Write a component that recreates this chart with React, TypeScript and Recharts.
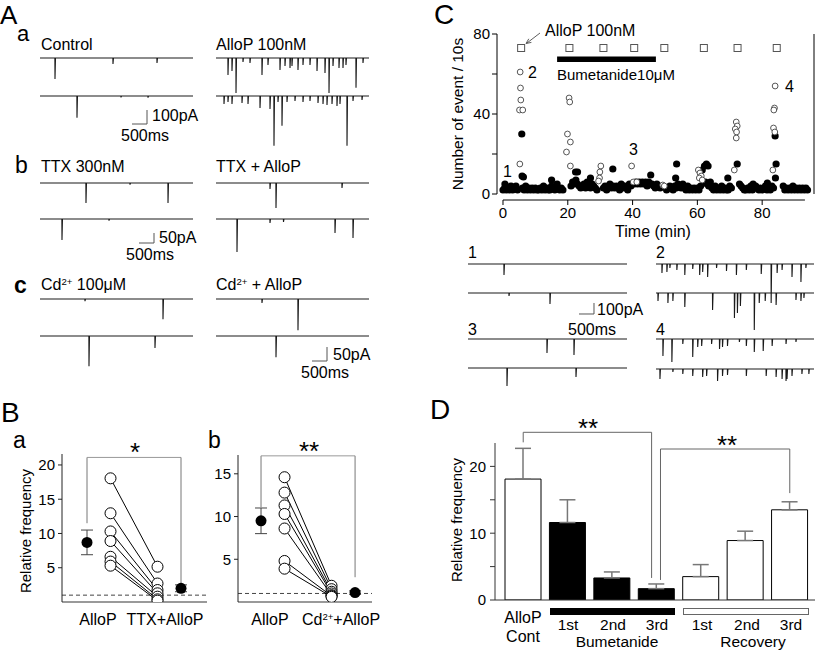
import React from "react";
import {
  Bar,
  BarChart,
  Cell,
  ComposedChart,
  ErrorBar,
  Line,
  LineChart,
  ReferenceArea,
  ReferenceLine,
  Scatter,
  XAxis,
  YAxis,
} from "recharts";

type Spike = [number, number]; // [time in ms, amplitude in pA]

// ---------- A: sweeps (spike time ms, amplitude pA) ----------
const controlTop: Spike[] = [[500, 150], [2433, 43], [3900, 35]];
const controlBottom: Spike[] = [[1233, 156], [2700, 10], [3600, 12]];
const allopTop: Spike[] = [
  [400, 121], [533, 92], [667, 250], [900, 28], [1133, 35], [1533, 121], [1733, 50], [2133, 85],
  [2300, 57], [2467, 71], [2533, 57], [2733, 85], [2900, 50], [3133, 50], [3367, 92], [3633, 107],
  [3767, 250], [3900, 57], [4100, 71], [4233, 71], [4333, 50], [4667, 213], [4900, 35],
];
const allopBottom: Spike[] = [
  [267, 57], [400, 43], [533, 57], [867, 50], [1067, 57], [1467, 85], [1800, 92], [1933, 355],
  [2067, 43], [2200, 213], [2367, 43], [2633, 35], [2900, 43], [3133, 35], [3400, 50], [3567, 57],
  [3700, 64], [3867, 57], [4033, 71], [4133, 57], [4367, 355], [4567, 35], [4867, 28],
];
const ttxTop: Spike[] = [[1533, 100], [3000, 8], [4267, 100]];
const ttxBottom: Spike[] = [[733, 105], [2300, 8]];
const ttxAllopTop: Spike[] = [[1800, 30], [2000, 125], [4200, 25]];
const ttxAllopBottom: Spike[] = [[700, 165], [1800, 20], [2250, 15], [3967, 70], [4567, 95]];
const cdTop: Spike[] = [[1500, 8], [4100, 72]];
const cdBottom: Spike[] = [[1633, 108], [3833, 43]];
const cdAllopTop: Spike[] = [[1533, 14], [2733, 112]];
const cdAllopBottom: Spike[] = [[2000, 76]];

// ---------- C: sample sweeps ----------
const c1Top: Spike[] = [[1200, 100]];
const c1Bottom: Spike[] = [[1367, 27], [2733, 100]];
const c3Top: Spike[] = [[2633, 127], [3533, 145]];
const c3Bottom: Spike[] = [[1300, 164], [3600, 82]];
const c2Top: Spike[] = [
  [200, 82], [366, 73], [466, 36], [700, 55], [966, 100], [1232, 45], [1465, 100], [1565, 73],
  [1732, 118], [2031, 36], [2364, 64], [2697, 100], [3030, 55], [3530, 91], [3863, 355], [4063, 82],
  [4229, 55], [4562, 118], [4862, 164], [5028, 36],
];
const c2Bottom: Spike[] = [
  [67, 73], [400, 91], [566, 73], [966, 127], [1898, 155], [2631, 228], [2731, 182], [2831, 118],
  [3297, 337], [3463, 91], [3663, 73], [4029, 109], [4695, 64], [4862, 73], [4962, 45],
];
const c4Top: Spike[] = [
  [233, 155], [533, 209], [899, 45], [1232, 164], [1399, 73], [1532, 64], [1865, 45], [2131, 91],
  [2231, 73], [2398, 64], [2797, 27], [3030, 64], [3297, 118], [3596, 109], [3896, 64], [4362, 45],
  [4695, 27],
];
const c4Bottom: Spike[] = [
  [133, 91], [566, 27], [899, 45], [1232, 64], [1565, 73], [1698, 64], [2065, 109], [2231, 64],
  [2398, 55], [3030, 64], [3696, 64], [4029, 73], [4229, 91], [4362, 109], [4396, 91], [4562, 64],
  [4895, 45], [5128, 45],
];

// ---------- C: events per 10 s vs time ----------
// one value per 30 s bin, starting at 0 min (null = no point shown)
const bandCounts: (number | null)[] = [
  2, 3, 2, 3, 2, 4, 2, 3, 4, 2,
  null, null, 3, 2, 4, 2, 3, 2, 3, 2,
  3, 2, 2, 3, 2, 4, 2, 3, 2, 2,
  4, 3, 2, 4, 3, 2, 3, 2, null, null,
  null, null, 4, 6, 5, 7, 5, 4, 3, 4,
  5, 3, 6, 4, 3, 5, 4, 3, 2, null,
  null, null, 3, 4, 2, 3, 5, 3, 4, 3,
  4, 3, 2, 5, 3, 4, 3, 2, 5, 4,
  null, 5, 6, 5, 6, 5, 6, 5, 6, 4,
  6, 5, 5, 4, 3, 5, 4, 3, null, null,
  null, 2, 3, 4, 3, 2, 4, 3, 5, 4,
  3, 5, 3, 2, 4, 2, 3, 2, 3, 2,
  3, 2, 4, null, null, 6, 5, 4, 6, 3,
  2, 4, 2, 3, 2, 4, 2, 3, 2, 2,
  4, 3, null, null, null, null, 5, 4, 3, 2,
  2, 3, 2, 4, 2, 3, 4, 3, 2, 3,
  2, 3, 4, 2, 3, 2, 4, 3, null, null,
  null, null, null, 4, 2, 3, 2, 3, 2, 4,
  2, 3, 2, 3, 2, 3, 2, 3, 2,
];
const filledBursts: [number, number][] = [
  [0.6, 5], [5.8, 30], [5.9, 9], [6.3, 8.5], [15, 7], [16.7, 5], [22.4, 11], [23.0, 11], [27, 8],
  [33.9, 12.5], [45.6, 9.5], [53.3, 8], [53.6, 15], [61.5, 12], [62.2, 14], [62.8, 15], [63.3, 14],
  [69.4, 8], [72.3, 15], [77.2, 5], [81.6, 5.5], [84.0, 29], [84.3, 15], [84.1, 8],
];
const openCounts: [number, number][] = [
  [5.3, 61], [5.4, 53], [5.5, 47], [5.1, 42], [6.1, 42], [5.2, 15],
  [20.4, 48], [20.6, 46], [19.9, 30], [20.8, 26], [19.6, 21], [20.8, 14],
  [30.2, 14], [29.9, 11], [29.8, 8], [29.5, 6.5],
  [39.7, 14], [40.2, 6], [41.3, 6],
  [49.3, 4.5], [49.8, 4],
  [60.3, 12], [60.8, 10.5], [61.2, 9], [60.6, 8], [61.5, 7],
  [72.0, 36], [72.3, 34], [71.7, 32.5], [72.1, 31], [72.0, 28], [71.4, 12],
  [84.0, 54], [83.8, 43], [83.6, 42], [83.5, 33], [83.9, 31], [83.3, 12],
];
const allopMarkTimes = [5.6, 20.5, 31, 40.5, 49.8, 62, 72.4, 84.5];
const allopMarkLevel = 73;
const bumetanideSpan = [16.7, 47.2];

// ---------- B: relative frequency ----------
const baAllop = [18.05, 12.95, 10.3, 8.9, 6.6, 5.9, 5.3];
const baTtx = [5.15, 2.7, 1.75, 1.27, 0.78, 0.39, 0.2];
const baMeans = [8.7, 2.0];
const baErrors = [1.8, 0.5];
const baBracket = [21.1, 11.5, 2.7]; // top, left end, right end
const bbAllop = [14.6, 12.8, 11.3, 10.3, 8.6, 4.8, 3.9];
const bbCd = [1.9, 1.5, 1.2, 1.0, 0.8, 0.7, 0.6];
const bbMeans = [9.5, 1.1];
const bbErrors = [1.5, 0.2];
const bbBracket = [17.1, 11.1, 2.9];

// ---------- D ----------
const dCategories = [
  "AlloP Cont", "Bumetanide 1st", "Bumetanide 2nd", "Bumetanide 3rd",
  "Recovery 1st", "Recovery 2nd", "Recovery 3rd",
];
const dMeans = [18.1, 11.6, 3.3, 1.7, 3.5, 8.9, 13.5];
const dErrUp = [4.6, 3.4, 0.9, 0.7, 1.8, 1.4, 1.2];

const FONT = '"Liberation Sans", Arial, Helvetica, sans-serif';

// text placed by its baseline; the box is kept to roughly the cap height
function Txt({ x, y, size = 16, anchor = "start", bold = false, children }: any) {
  const shift = anchor === "middle" ? "-50%" : anchor === "end" ? "-100%" : "0";
  const lh = size * 0.7;
  return (
    <div
      style={{
        position: "absolute",
        left: x,
        top: y - lh / 2 - 0.3465 * size,
        fontSize: size,
        lineHeight: `${lh}px`,
        fontWeight: bold ? 700 : 400,
        whiteSpace: "nowrap",
        transform: `translateX(${shift})`,
      }}
    >
      {children}
    </div>
  );
}

function VTxt({ cx, cy, size = 15, children }: any) {
  return (
    <div
      style={{
        position: "absolute",
        left: cx,
        top: cy,
        fontSize: size,
        lineHeight: `${size}px`,
        whiteSpace: "nowrap",
        transform: "translate(-50%, -50%) rotate(-90deg)",
      }}
    >
      {children}
    </div>
  );
}

const Sup = ({ children }: any) => (
  <span style={{ fontSize: "0.6em", position: "relative", top: "-0.6em" }}>{children}</span>
);

function tracePoints(spikes: Spike[], duration: number) {
  const pts: { t: number; v: number }[] = [{ t: 0, v: 0 }];
  [...spikes]
    .sort((a, b) => a[0] - b[0])
    .forEach(([t, a]) => {
      pts.push({ t: t - 4, v: 0 }, { t, v: -a }, { t: t + 16, v: 0 });
    });
  pts.push({ t: duration, v: 0 });
  return pts;
}

function Trace({ spikes, x, y, width, duration, pAPerPx }: any) {
  const depth = Math.ceil(Math.max(...spikes.map((s: Spike) => s[1])) / pAPerPx) + 2;
  return (
    <div style={{ position: "absolute", left: x, top: y - 2 }}>
      <LineChart
        width={width}
        height={depth + 4}
        data={tracePoints(spikes, duration)}
        margin={{ top: 2, right: 0, bottom: 2, left: 0 }}
      >
        <XAxis dataKey="t" type="number" domain={[0, duration]} hide />
        <YAxis type="number" domain={[-depth * pAPerPx, 0]} hide />
        <Line dataKey="v" type="linear" stroke="#1a1a1a" strokeWidth={1.1} dot={false} isAnimationActive={false} />
      </LineChart>
    </div>
  );
}

function ScaleBar({ x, y, msPerPx, pAPerPx, pA }: any) {
  const w = 500 / msPerPx;
  const h = pA / pAPerPx;
  return (
    <div style={{ position: "absolute", left: x - 1, top: y - h - 1 }}>
      <LineChart
        width={w + 2}
        height={h + 2}
        data={[{ t: 0, v: 0 }, { t: 500, v: 0 }, { t: 500, v: pA }]}
        margin={{ top: 1, right: 1, bottom: 1, left: 1 }}
      >
        <XAxis dataKey="t" type="number" domain={[0, 500]} hide />
        <YAxis type="number" domain={[0, pA]} hide />
        <Line dataKey="v" type="linear" stroke="#555" strokeWidth={1} dot={false} isAnimationActive={false} />
      </LineChart>
    </div>
  );
}

const FilledMean = (p: any) => <circle cx={p.cx} cy={p.cy} r={5.5} fill="#000" />;

function PairPlot({ x, y, width, margin, yMax, yTicks, xDomain, before, after, means, errors, bracket }: any) {
  const meanRows = means.map((v: number, i: number) => ({ x: i === 0 ? 0 : 4, y: v, e: errors[i] }));
  return (
    <div style={{ position: "absolute", left: x, top: y }}>
      <ComposedChart width={width} height={170} margin={margin}>
        <XAxis
          type="number"
          dataKey="x"
          domain={xDomain}
          allowDataOverflow
          tick={false}
          tickLine={false}
          axisLine={{ stroke: "#999", strokeWidth: 2 }}
          height={8}
        />
        <YAxis
          type="number"
          dataKey="y"
          domain={[0, yMax]}
          allowDataOverflow
          ticks={yTicks}
          width={34}
          tickSize={4}
          tickMargin={3}
          tick={{ fontSize: 15, fill: "#000" }}
          axisLine={{ stroke: "#222" }}
          tickLine={{ stroke: "#222" }}
        />
        <ReferenceLine y={1} stroke="#444" strokeDasharray="4 3" />
        <ReferenceLine segment={[{ x: 0, y: bracket[1] }, { x: 0, y: bracket[0] }]} stroke="#777" ifOverflow="visible" />
        <ReferenceLine segment={[{ x: 0, y: bracket[0] }, { x: 4, y: bracket[0] }]} stroke="#999" ifOverflow="visible" />
        <ReferenceLine segment={[{ x: 4, y: bracket[0] }, { x: 4, y: bracket[2] }]} stroke="#777" ifOverflow="visible" />
        {before.map((b: number, i: number) => (
          <Line
            key={i}
            data={[{ x: 1, y: b }, { x: 3, y: after[i] }]}
            dataKey="y"
            type="linear"
            stroke="#000"
            strokeWidth={1}
            dot={{ r: 5.5, fill: "#fff", stroke: "#000", strokeWidth: 1 }}
            isAnimationActive={false}
          />
        ))}
        <Scatter data={meanRows} dataKey="y" shape={FilledMean} isAnimationActive={false}>
          <ErrorBar dataKey="e" width={6} stroke="#444" strokeWidth={1} direction="y" />
        </Scatter>
      </ComposedChart>
    </div>
  );
}

const BandDot = (p: any) => <circle cx={p.cx} cy={p.cy} r={3.6} fill="#000" />;
const OpenDot = (p: any) => <circle cx={p.cx} cy={p.cy} r={2.9} fill="#fff" stroke="#444" strokeWidth={0.9} />;
const SquareMark = (p: any) => (
  <rect x={p.cx - 3.5} y={p.cy - 3.5} width={7} height={7} fill="#fff" stroke="#555" strokeWidth={1} />
);
const CYTick = (p: any) =>
  p.payload.value % 40 === 0 ? (
    <text x={p.x} y={p.y} dy="0.355em" textAnchor="end" fontSize={15} fill="#000">
      {p.payload.value}
    </text>
  ) : (
    <g />
  );
const DYTick = (p: any) =>
  p.payload.value % 10 === 0 ? (
    <text x={p.x} y={p.y} dy="0.355em" textAnchor="end" fontSize={15} fill="#000">
      {p.payload.value}
    </text>
  ) : (
    <g />
  );

function TimeCourse() {
  const band = bandCounts
    .map((v, i) => ({ t: i * 0.5, v }))
    .filter((d) => d.v !== null);
  const bursts = filledBursts.map(([t, v]) => ({ t, v }));
  const opens = openCounts.map(([t, v]) => ({ t, v }));
  const marks = allopMarkTimes.map((t) => ({ t, v: allopMarkLevel }));
  return (
    <div style={{ position: "absolute", left: 440, top: 20 }}>
      <ComposedChart width={380} height={210} margin={{ top: 14, right: 0, bottom: 6, left: 7 }}>
        <XAxis
          type="number"
          dataKey="t"
          domain={[-1.85, 96]}
          allowDataOverflow
          ticks={[0, 20, 40, 60, 80]}
          tickSize={5}
          tickMargin={2}
          axisLine={false}
          tickLine={{ stroke: "#000" }}
          tick={{ fontSize: 15, fill: "#000" }}
          height={24}
        />
        <YAxis
          yAxisId="l"
          type="number"
          dataKey="v"
          domain={[-3, 80]}
          allowDataOverflow
          ticks={[0, 20, 40, 60, 80]}
          tickSize={5}
          tickMargin={2}
          width={50}
          axisLine={false}
          tickLine={{ stroke: "#000" }}
          tick={CYTick}
        />
        <YAxis
          yAxisId="r"
          orientation="right"
          type="number"
          domain={[-3, 80]}
          allowDataOverflow
          ticks={[0, 20, 40, 60, 80]}
          tickSize={5}
          width={6}
          axisLine={false}
          tickLine={{ stroke: "#000" }}
          tick={false}
        />
        <ReferenceLine yAxisId="l" segment={[{ x: -1.85, y: 0 }, { x: -1.85, y: 80 }]} stroke="#000" ifOverflow="visible" />
        <ReferenceLine yAxisId="l" segment={[{ x: 96, y: 0 }, { x: 96, y: 80 }]} stroke="#000" ifOverflow="visible" />
        <ReferenceLine yAxisId="l" segment={[{ x: 0, y: -3 }, { x: 93.2, y: -3 }]} stroke="#000" ifOverflow="visible" />
        <ReferenceArea
          yAxisId="l"
          x1={bumetanideSpan[0]}
          x2={bumetanideSpan[1]}
          y1={66}
          y2={68.8}
          fill="#000"
          fillOpacity={1}
          strokeWidth={0}
        />
        <Scatter yAxisId="l" data={band} shape={BandDot} isAnimationActive={false} />
        <Scatter yAxisId="l" data={bursts} shape={BandDot} isAnimationActive={false} />
        <Scatter yAxisId="l" data={opens} shape={OpenDot} isAnimationActive={false} />
        <Scatter yAxisId="l" data={marks} shape={SquareMark} isAnimationActive={false} />
      </ComposedChart>
    </div>
  );
}

function SummaryBars() {
  const rows = dCategories.map((c, i) => ({ c, v: dMeans[i], err: [0, dErrUp[i]] }));
  const seg = (a: number, b: number, c: number, d: number, k: string) => (
    <ReferenceLine
      key={k}
      xAxisId="pos"
      segment={[{ x: a, y: b }, { x: c, y: d }]}
      stroke="#666"
      ifOverflow="visible"
    />
  );
  return (
    <div style={{ position: "absolute", left: 440, top: 420 }}>
      <BarChart width={380} height={190} data={rows} margin={{ top: 23, right: 5, bottom: 0, left: 5 }}>
        <XAxis
          dataKey="c"
          tick={false}
          tickLine={false}
          height={10}
          padding={{ left: 6, right: 3 }}
          axisLine={{ stroke: "#333" }}
        />
        <XAxis
          xAxisId="pos"
          dataKey="pos"
          type="number"
          domain={[-0.635, 6.568]}
          allowDataOverflow
          hide
        />
        <YAxis
          domain={[0, 23.5]}
          allowDataOverflow
          ticks={[0, 5, 10, 15, 20]}
          width={50}
          tickSize={5}
          tickMargin={4}
          tick={DYTick}
          axisLine={{ stroke: "#333" }}
          tickLine={{ stroke: "#333" }}
        />
        <Bar dataKey="v" barSize={36} stroke="#000" strokeWidth={1} isAnimationActive={false}>
          {rows.map((r) => (
            <Cell key={r.c} fill={r.c.startsWith("Bumetanide") ? "#000" : "#fff"} />
          ))}
          <ErrorBar dataKey="err" width={8} stroke="#777" strokeWidth={1.5} direction="y" />
        </Bar>
        {seg(0, 23.6, 0, 25.1, "a1")}
        {seg(0, 25.1, 2.89, 25.1, "a2")}
        {seg(2.89, 25.1, 2.89, 3.3, "a3")}
        {seg(3.09, 3.0, 3.09, 22.6, "b1")}
        {seg(3.09, 22.6, 6, 22.6, "b2")}
        {seg(6, 22.6, 6, 16.0, "b3")}
      </BarChart>
    </div>
  );
}

export default function App() {
  const A = { ms: 5100, w: 153, px: 5100 / 153 };
  const C = { ms: 5300, px: 5300 / 159 };
  return (
    <div
      style={{
        position: "absolute",
        left: 0,
        top: 0,
        width: 827,
        height: 655,
        background: "#fff",
        overflow: "hidden",
        fontFamily: FONT,
        color: "#000",
      }}
    >
      {/* ---------- A ---------- */}
      <Txt x={0} y={24} size={26}>A</Txt>
      <Txt x={17} y={41} size={22}>a</Txt>
      <Txt x={41} y={50}>Control</Txt>
      <Txt x={216} y={50}>AlloP 100nM</Txt>
      <Trace spikes={controlTop} x={40} y={57.5} width={A.w} duration={A.ms} pAPerPx={100 / 14} />
      <Trace spikes={controlBottom} x={40} y={95.5} width={A.w} duration={A.ms} pAPerPx={100 / 14} />
      <Trace spikes={allopTop} x={216} y={57.5} width={A.w} duration={A.ms} pAPerPx={100 / 14} />
      <Trace spikes={allopBottom} x={216} y={95.5} width={A.w} duration={A.ms} pAPerPx={100 / 14} />
      <ScaleBar x={132} y={124} msPerPx={A.px} pAPerPx={100 / 14} pA={100} />
      <Txt x={152} y={121}>100pA</Txt>
      <Txt x={121} y={141.5}>500ms</Txt>

      <Txt x={15} y={173} size={23}>b</Txt>
      <Txt x={41} y={172}>TTX 300nM</Txt>
      <Txt x={216} y={172}>TTX + AlloP</Txt>
      <Trace spikes={ttxTop} x={40} y={183} width={A.w} duration={A.ms} pAPerPx={5} />
      <Trace spikes={ttxBottom} x={40} y={219} width={A.w} duration={A.ms} pAPerPx={5} />
      <Trace spikes={ttxAllopTop} x={216} y={183} width={A.w} duration={A.ms} pAPerPx={5} />
      <Trace spikes={ttxAllopBottom} x={216} y={219} width={A.w} duration={A.ms} pAPerPx={5} />
      <ScaleBar x={139} y={243} msPerPx={A.px} pAPerPx={5} pA={50} />
      <Txt x={159} y={243}>50pA</Txt>
      <Txt x={126} y={260}>500ms</Txt>

      <Txt x={14} y={293} size={23} bold>c</Txt>
      <Txt x={41} y={290.5}>Cd<Sup>2+</Sup> 100μM</Txt>
      <Txt x={216} y={290.5}>Cd<Sup>2+</Sup> + AlloP</Txt>
      <Trace spikes={cdTop} x={40} y={299} width={A.w} duration={A.ms} pAPerPx={50 / 14} />
      <Trace spikes={cdBottom} x={40} y={336} width={A.w} duration={A.ms} pAPerPx={50 / 14} />
      <Trace spikes={cdAllopTop} x={216} y={299} width={A.w} duration={A.ms} pAPerPx={50 / 14} />
      <Trace spikes={cdAllopBottom} x={216} y={336} width={A.w} duration={A.ms} pAPerPx={50 / 14} />
      <ScaleBar x={312} y={361} msPerPx={A.px} pAPerPx={50 / 14} pA={50} />
      <Txt x={333} y={360}>50pA</Txt>
      <Txt x={301} y={378}>500ms</Txt>

      {/* ---------- B ---------- */}
      <Txt x={1} y={423} size={28}>B</Txt>
      <Txt x={13} y={448} size={23}>a</Txt>
      <Txt x={208} y={448} size={23}>b</Txt>
      <VTxt cx={25} cy={531}>Relative frequency</VTxt>
      <PairPlot
        x={0}
        y={440}
        width={230}
        margin={{ top: 14, right: 23, bottom: 0, left: 28 }}
        yMax={21.6}
        yTicks={[0, 5, 10, 15, 20]}
        xDomain={[-1.064, 5.106]}
        before={baAllop}
        after={baTtx}
        means={baMeans}
        errors={baErrors}
        bracket={baBracket}
      />
      <PairPlot
        x={190}
        y={440}
        width={200}
        margin={{ top: 15, right: 18, bottom: 0, left: 14 }}
        yMax={17.2}
        yTicks={[0, 5, 10, 15]}
        xDomain={[-0.979, 4.72]}
        before={bbAllop}
        after={bbCd}
        means={bbMeans}
        errors={bbErrors}
        bracket={bbBracket}
      />
      <Txt x={135} y={461} size={26} anchor="middle">*</Txt>
      <Txt x={309} y={460} size={26} anchor="middle">**</Txt>
      <Txt x={98} y={625.5} anchor="middle">AlloP</Txt>
      <Txt x={165} y={625.5} anchor="middle">TTX+AlloP</Txt>
      <Txt x={270} y={625.5} anchor="middle">AlloP</Txt>
      <Txt x={341} y={625.5} anchor="middle">Cd<Sup>2+</Sup>+AlloP</Txt>

      {/* ---------- C ---------- */}
      <Txt x={434} y={25} size={28}>C</Txt>
      <VTxt cx={458} cy={114} size={15.5}>Number of event / 10s</VTxt>
      <TimeCourse />
      <Txt x={545} y={36}>AlloP 100nM</Txt>
      <Txt x={557} y={80.5} size={15}>Bumetanide10μM</Txt>
      <Txt x={653} y={237} anchor="middle">Time (min)</Txt>
      <Txt x={503} y={177}>1</Txt>
      <Txt x={528} y={78}>2</Txt>
      <Txt x={629} y={155}>3</Txt>
      <Txt x={785} y={92}>4</Txt>
      <svg width={827} height={655} style={{ position: "absolute", left: 0, top: 0, pointerEvents: "none" }}>
        <line x1={540} y1={33} x2={527} y2={43} stroke="#333" strokeWidth={0.8} />
        <polyline points="528.8,38.8 526,43.5 531.4,42.4" fill="none" stroke="#333" strokeWidth={0.8} />
      </svg>

      <Txt x={468} y={258}>1</Txt>
      <Txt x={656} y={258}>2</Txt>
      <Txt x={468} y={335}>3</Txt>
      <Txt x={656} y={335}>4</Txt>
      <Trace spikes={c1Top} x={468} y={264} width={159} duration={C.ms} pAPerPx={9.1} />
      <Trace spikes={c1Bottom} x={468} y={293} width={159} duration={C.ms} pAPerPx={9.1} />
      <Trace spikes={c3Top} x={468} y={339} width={159} duration={C.ms} pAPerPx={9.1} />
      <Trace spikes={c3Bottom} x={468} y={368} width={159} duration={C.ms} pAPerPx={9.1} />
      <Trace spikes={c2Top} x={656} y={264} width={158} duration={C.ms} pAPerPx={9.1} />
      <Trace spikes={c2Bottom} x={656} y={293} width={158} duration={C.ms} pAPerPx={9.1} />
      <Trace spikes={c4Top} x={656} y={339} width={158} duration={C.ms} pAPerPx={9.1} />
      <Trace spikes={c4Bottom} x={656} y={369} width={158} duration={C.ms} pAPerPx={9.1} />
      <ScaleBar x={579} y={314} msPerPx={C.px} pAPerPx={9.1} pA={100} />
      <Txt x={597} y={315}>100pA</Txt>
      <Txt x={568} y={335}>500ms</Txt>

      {/* ---------- D ---------- */}
      <Txt x={430} y={420} size={28}>D</Txt>
      <VTxt cx={456} cy={520}>Relative frequency</VTxt>
      <SummaryBars />
      <Txt x={588} y={437} size={26} anchor="middle">**</Txt>
      <Txt x={727} y={454} size={26} anchor="middle">**</Txt>
      <div style={{ position: "absolute", left: 550, top: 608, width: 125, height: 7, background: "#000" }} />
      <div
        style={{
          position: "absolute",
          left: 683,
          top: 608,
          width: 124,
          height: 5,
          border: "1px solid #666",
          background: "#fff",
        }}
      />
      <Txt x={523} y={623} anchor="middle">AlloP</Txt>
      <Txt x={523} y={642} anchor="middle">Cont</Txt>
      <Txt x={568} y={630.5} size={15.5} anchor="middle">1st</Txt>
      <Txt x={613} y={630.5} size={15.5} anchor="middle">2nd</Txt>
      <Txt x={657} y={630.5} size={15.5} anchor="middle">3rd</Txt>
      <Txt x={702} y={630.5} size={15.5} anchor="middle">1st</Txt>
      <Txt x={747} y={630.5} size={15.5} anchor="middle">2nd</Txt>
      <Txt x={791} y={630.5} size={15.5} anchor="middle">3rd</Txt>
      <Txt x={617} y={648} size={15.5} anchor="middle">Bumetanide</Txt>
      <Txt x={753} y={648} size={15.5} anchor="middle">Recovery</Txt>
    </div>
  );
}
